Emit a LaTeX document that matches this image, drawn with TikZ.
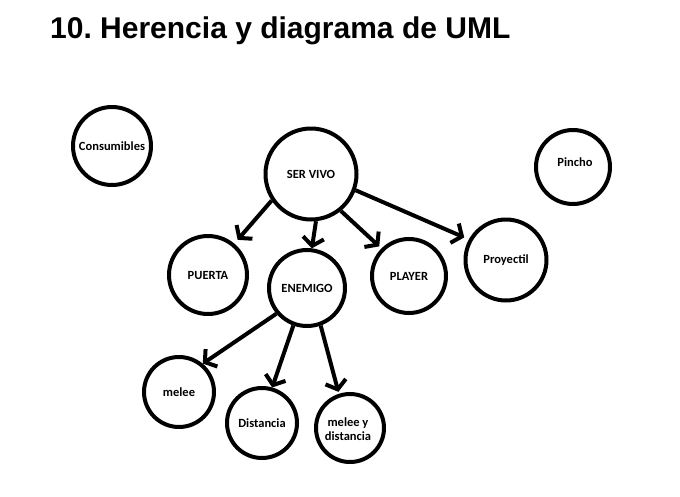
\documentclass[tikz,border=0pt]{standalone}
\usepackage{fontspec}
\setmainfont{Carlito}[BoldFont={Carlito Bold}]
\newfontfamily\titlefont{Liberation Sans}[BoldFont={Liberation Sans Bold}]
\usetikzlibrary{arrows.meta}
\begin{document}
\begin{tikzpicture}[x=1pt,y=-1pt,
  lbl/.style={font=\bfseries\fontsize{12.5}{13}\selectfont, align=center},
  circ/.style={draw, circle, line width=4pt, inner sep=0pt, lbl},
  arr/.style={line width=4pt, -{Straight Barb[length=8pt,width=21pt]}}]
\useasboundingbox (0,0) rectangle (680,496);
\node[anchor=base west, font=\titlefont\bfseries\fontsize{30}{32}\selectfont, inner sep=0pt] (title) at (50,38) {10.\ Herencia y diagrama de UML};

\node[circ, minimum size=78pt] (cons) at (112,146) {Consumibles};
\node[circ, minimum size=91pt] (sv) at (311,174) {SER VIVO};
\node[circ, minimum size=74pt] (pin) at (573,167) {};
\node[lbl] (pint) at (575,162) {Pincho};
\node[circ, minimum size=78pt] (pu) at (208,275) {PUERTA};
\node[circ, minimum size=76pt] (en) at (307,288) {ENEMIGO};
\node[circ, minimum size=74pt] (pl) at (409,276) {PLAYER};
\node[circ, minimum size=81pt] (pr) at (506,260) {Proyectil};
\node[circ, minimum size=70pt] (me) at (179,392) {melee};
\node[circ, minimum size=70pt] (di) at (262,423) {Distancia};
\node[circ, minimum size=68pt] (md) at (350,428) {};
\node[lbl, font=\bfseries\fontsize{12.5}{14.5}\selectfont] (mdt) at (348,429) {melee y\\distancia};

\draw[arr, shorten >=5pt] (sv.214) -- (pu.50);
\draw[arr] (sv.-84) -- (en.83);
\draw[arr, shorten >=3pt] (sv.-51) -- (pl.135);
\draw[arr, shorten >=5pt] (sv.-20) -- (pr.151);
\draw[arr] (en.220) -- (me.50);
\draw[arr] (en.250) -- (di.74);
\draw[arr, shorten >=2pt] (en.-70) -- (md.108);
\end{tikzpicture}
\end{document}
